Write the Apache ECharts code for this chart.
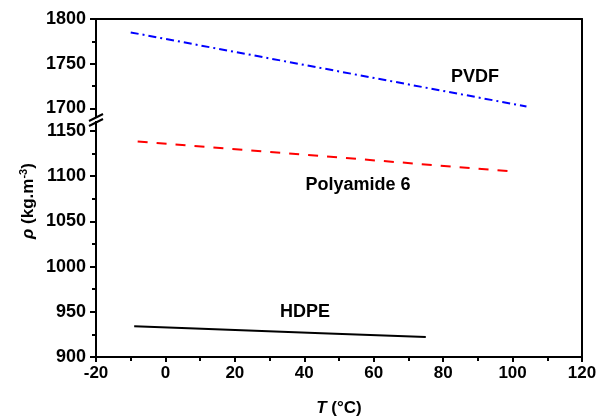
<!DOCTYPE html>
<html>
<head>
<meta charset="utf-8">
<script src="https://cdn.jsdelivr.net/npm/echarts@6/dist/echarts.min.js"></script>
<style>html,body{margin:0;padding:0;background:#fff;}#c{width:606px;height:419px;}</style>
</head>
<body>
<div id="c"></div>
<script>
// Data (T in °C, density in kg/m3)
const pvdfT = [-10, 104];
const pvdfRho = [1785, 1702];
const pa6T = [-8, 101];
const pa6Rho = [1138.5, 1105];
const hdpeT = [-9, 22, 75];
const hdpeRho = [934, 929.5, 922];
const xTicks = { min: -20, max: 120, interval: 20 };
const yUpper = { min: 1700, max: 1800, interval: 50 };
const yLower = { min: 900, max: 1150, interval: 50 };
const seriesNames = ['PVDF', 'Polyamide 6', 'HDPE'];

const FONT = 'Liberation Sans, Arial, sans-serif';
const pair = (xs, ys) => xs.map((x, i) => [x, ys[i]]);
const plain = v => String(v);

const chart = echarts.init(document.getElementById('c'), null, { renderer: 'canvas' });

const lineStyleAxis = { color: '#000', width: 2 };
const leftY = (gi, r) => ({
  type: 'value', gridIndex: gi, min: r.min, max: r.max, interval: r.interval,
  axisLine: { show: true, onZero: false, lineStyle: lineStyleAxis },
  axisTick: { show: true, inside: false, length: 6, lineStyle: { width: 2, color: '#000' } },
  minorTick: { show: true, splitNumber: 2, length: 4, lineStyle: { width: 2, color: '#000' } },
  axisLabel: { color: '#000', fontFamily: FONT, fontWeight: 'bold', fontSize: 18, margin: 10, formatter: plain },
  splitLine: { show: false }
});
const rightY = (gi, r) => ({
  type: 'value', gridIndex: gi, position: 'right', min: r.min, max: r.max,
  axisLine: { show: true, onZero: false, lineStyle: lineStyleAxis },
  axisTick: { show: false }, axisLabel: { show: false }, splitLine: { show: false }
});

const option = {
  animation: false,
  backgroundColor: '#fff',
  grid: [
    { left: 96, right: 24, top: 19, height: 89.3, containLabel: false, outerBoundsMode: 'none' },
    { left: 96, right: 24, top: 131, bottom: 62, containLabel: false, outerBoundsMode: 'none' }
  ],
  xAxis: [
    { type: 'value', gridIndex: 0, position: 'top', min: xTicks.min, max: xTicks.max, interval: xTicks.interval,
      axisLine: { show: true, onZero: false, lineStyle: lineStyleAxis },
      axisTick: { show: false }, axisLabel: { show: false }, splitLine: { show: false } },
    { type: 'value', gridIndex: 1, position: 'bottom', min: xTicks.min, max: xTicks.max, interval: xTicks.interval,
      axisLine: { show: true, onZero: false, lineStyle: lineStyleAxis },
      axisTick: { show: true, inside: false, length: 5, lineStyle: { width: 2, color: '#000' } },
      minorTick: { show: true, splitNumber: 2, length: 4, lineStyle: { width: 2, color: '#000' } },
      axisLabel: { color: '#000', fontFamily: FONT, fontWeight: 'bold', fontSize: 17, margin: 8, formatter: plain },
      splitLine: { show: false },
      name: '{i|T} ({n|°C})', nameLocation: 'middle', nameGap: 43,
      nameTextStyle: { color: '#000', fontFamily: FONT, fontWeight: 'bold', fontSize: 17,
        rich: { i: { fontStyle: 'italic', fontWeight: 'bold', fontFamily: FONT, fontSize: 17, color: '#000' },
                n: { fontWeight: 'bold', fontFamily: FONT, fontSize: 17, color: '#000' } } }
    }
  ],
  yAxis: [ leftY(0, yUpper), rightY(0, yUpper), leftY(1, yLower), rightY(1, yLower) ],
  series: [
    { name: seriesNames[0], type: 'line', xAxisIndex: 0, yAxisIndex: 0, data: pair(pvdfT, pvdfRho),
      symbol: 'none', lineStyle: { color: '#0000ff', width: 2, type: [8, 4, 2, 4] } },
    { name: seriesNames[1], type: 'line', xAxisIndex: 1, yAxisIndex: 2, data: pair(pa6T, pa6Rho),
      symbol: 'none', lineStyle: { color: '#ff0000', width: 2, type: [10, 9] } },
    { name: seriesNames[2], type: 'line', xAxisIndex: 1, yAxisIndex: 2, data: pair(hdpeT, hdpeRho),
      symbol: 'none', smooth: 0.3, lineStyle: { color: '#000', width: 2 } }
  ],
  graphic: [
    { type: 'line', shape: { x1: 96, y1: 108, x2: 96, y2: 117 }, style: { stroke: '#000', lineWidth: 2 } },
    { type: 'line', shape: { x1: 96, y1: 121, x2: 96, y2: 131 }, style: { stroke: '#000', lineWidth: 2 } },
    { type: 'line', shape: { x1: 582, y1: 108, x2: 582, y2: 131 }, style: { stroke: '#000', lineWidth: 2 } },
    { type: 'line', shape: { x1: 89, y1: 121, x2: 103, y2: 114 }, style: { stroke: '#000', lineWidth: 2 } },
    { type: 'line', shape: { x1: 89, y1: 126, x2: 103, y2: 119 }, style: { stroke: '#000', lineWidth: 2 } },
    { type: 'text', x: 475, y: 77, style: { text: seriesNames[0], font: 'bold 18px ' + FONT, fill: '#000', align: 'center', verticalAlign: 'middle' } },
    { type: 'text', x: 358, y: 185, style: { text: seriesNames[1], font: 'bold 18px ' + FONT, fill: '#000', align: 'center', verticalAlign: 'middle' } },
    { type: 'text', x: 305, y: 312, style: { text: seriesNames[2], font: 'bold 18px ' + FONT, fill: '#000', align: 'center', verticalAlign: 'middle' } },
    { type: 'text', x: 28, y: 201, rotation: Math.PI / 2,
      style: { text: '{i|ρ} (kg.m{s|-3})', align: 'center', verticalAlign: 'middle', fill: '#000',
        font: 'bold 17px ' + FONT,
        rich: { i: { fontStyle: 'italic', fontWeight: 'bold', fontSize: 17, fontFamily: FONT },
                s: { fontWeight: 'bold', fontSize: 11, fontFamily: FONT, verticalAlign: 'top', padding: [0, 0, 8, 0] } } } }
  ]
};
chart.setOption(option);
</script>
</body>
</html>
